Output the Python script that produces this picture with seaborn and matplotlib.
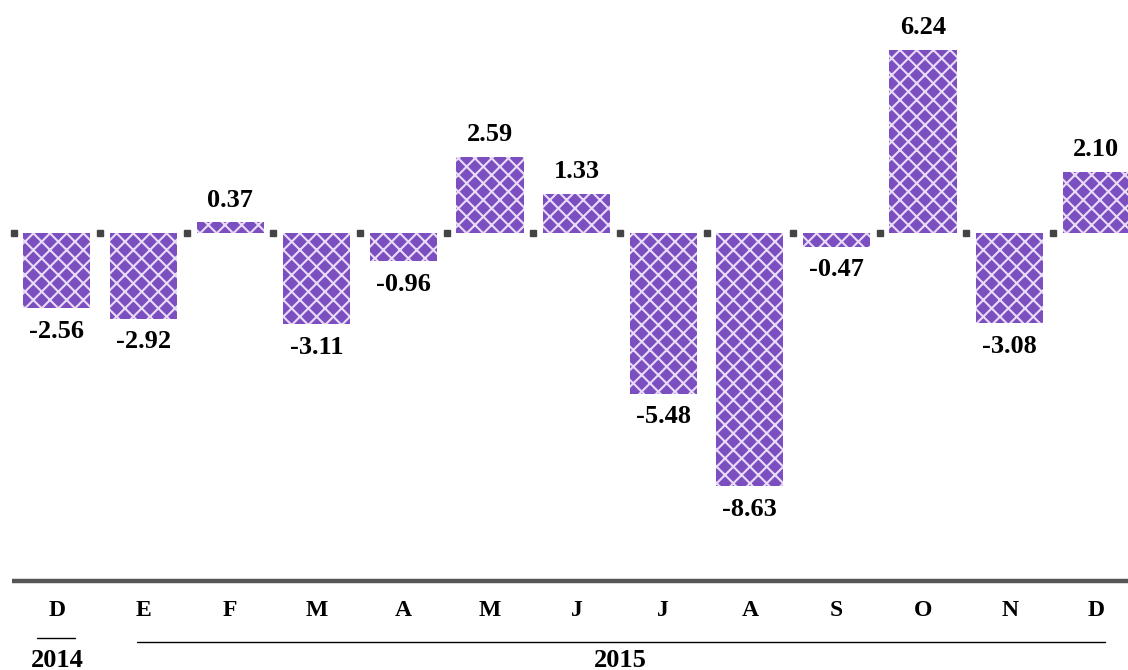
import numpy as np
import pandas as pd
import matplotlib
matplotlib.use('Agg')
import matplotlib.pyplot as plt
import seaborn as sns

# =============== DATA ====================
months = ['D', 'E', 'F', 'M', 'A', 'M', 'J', 'J', 'A', 'S', 'O', 'N', 'D']
values = [-2.56, -2.92, 0.37, -3.11, -0.96, 2.59, 1.33, -5.48, -8.63, -0.47, 6.24, -3.08, 2.10]
years = ['2014', '2015']

df = pd.DataFrame({'pos': np.arange(len(months)), 'value': values})

# =============== PLOT ====================
sns.set_style('white')
plt.rcParams['font.family'] = ['Liberation Serif', 'DejaVu Serif']
plt.rcParams['text.color'] = 'black'
plt.rcParams['hatch.linewidth'] = 1.5

fig = plt.figure(figsize=(11.28, 6.70), dpi=100)
ax = fig.add_axes([0, 0, 1, 1])

sns.barplot(data=df, x='pos', y='value', color='#7b4fc0', width=0.774,
            saturation=1, ax=ax, zorder=3)
for p in ax.patches:
    p.set_hatch('xx')
    p.set_edgecolor('#eadcf8')
    p.set_linewidth(0)

ax.set_xlim(-0.658, 12.367)
ax.set_ylim(-14.9, 7.95)
ax.axis('off')

# little dark dashes on the zero line, between bars
gaps = np.arange(len(months)) - 0.5
ax.plot(gaps, np.zeros(len(gaps)), ls='none', marker='s', ms=4.5,
        color='#444444', zorder=2)

# value labels
for i, v in enumerate(values):
    off = 16 if v > 0 else -16.5
    ax.annotate(f'{v:.2f}', (i, v), xytext=(0, off), textcoords='offset points',
                ha='center', va='center', fontsize=19, fontweight='bold',
                color='black')

# bottom axis line
ax.plot([-0.52, 12.37], [-11.88, -11.88], color='#555555', lw=3.2,
        solid_capstyle='butt')

# month labels
for i, m in enumerate(months):
    ax.text(i, -12.87, m, ha='center', va='center', fontsize=17,
            fontweight='bold', color='black')

# year brackets
ax.plot([-0.23, 0.21], [-13.8, -13.8], color='black', lw=1)
ax.plot([0.92, 12.1], [-13.93, -13.93], color='black', lw=1)
ax.text(0, -14.57, years[0], ha='center', va='center', fontsize=19,
        fontweight='bold', color='black')
ax.text(6.5, -14.57, years[1], ha='center', va='center', fontsize=19,
        fontweight='bold', color='black')

plt.savefig('out.png', dpi=100)
